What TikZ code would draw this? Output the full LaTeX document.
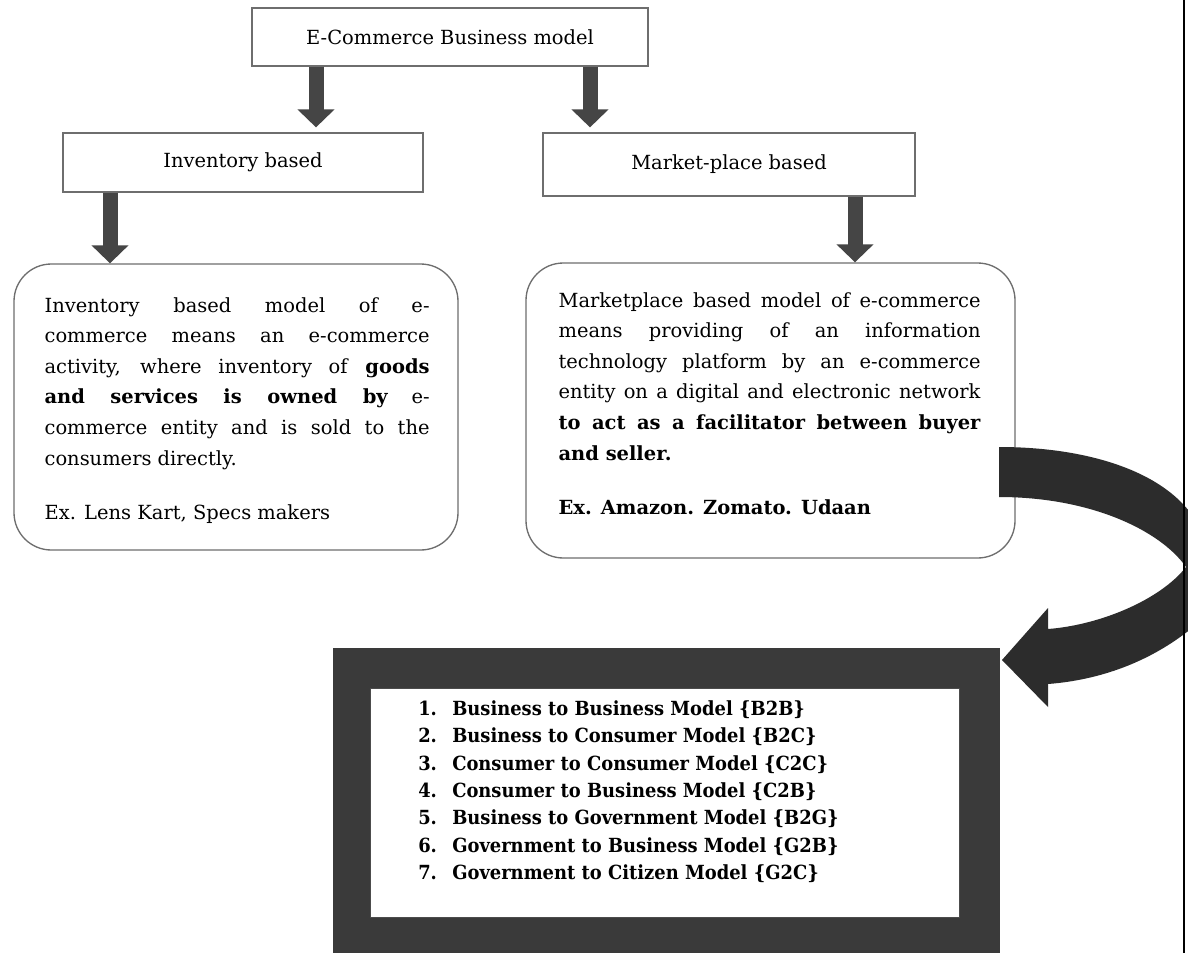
\documentclass[tikz,border=0pt]{standalone}
\usepackage{fontspec}
\setmainfont{DejaVu Serif}
\newfontfamily\listfont{DejaVu Serif}[FakeStretch=0.92]
\usetikzlibrary{arrows.meta,calc}
\setlength\parindent{0pt}
\tolerance=10000
\hbadness=10000
\hyphenpenalty=10000
\definecolor{edgegray}{HTML}{6E6E6E}
\definecolor{shaftgray}{HTML}{454545}
\definecolor{panelgray}{HTML}{3A3A3A}
\definecolor{ribbon}{HTML}{2C2C2C}
\begin{document}
\begin{tikzpicture}[x=0.75pt,y=-0.75pt,
  headbox/.style={draw=edgegray,line width=0.9pt,fill=white,inner sep=0pt,
    font=\fontsize{14.6}{18}\selectfont},
  roundbox/.style={draw=edgegray,line width=1pt,rounded corners=28pt,fill=white,inner sep=0pt},
  para/.style={inner sep=0pt,anchor=north west,align=justify,
    font=\fontsize{14.6}{22.9}\selectfont},
  blockarrow/.style={draw=shaftgray,line width=11.25pt,-{Triangle[width=27pt,length=13.5pt]}},
]
\useasboundingbox (0,0) rectangle (1188,953);
\fill[white] (0,0) rectangle (1188,953);

% header boxes
\node[headbox,minimum width=297pt,minimum height=43.5pt] (top) at (450,37) {E-Commerce Business model};
\node[headbox,minimum width=270pt,minimum height=44.25pt] (inv) at (243,162.5) {Inventory based};
\node[headbox,minimum width=279pt,minimum height=47.25pt] (mkt) at (729,164.5) {Market-place based};

% description boxes
\node[roundbox,minimum width=333pt,minimum height=214.5pt] (lbox) at (236,407) {};
\node[roundbox,minimum width=366.75pt,minimum height=221.25pt] (rbox) at (770.5,410.5) {};

\node[para,text width=288.75pt] (ltxt) at ($(lbox.north west)+(31,34)$)
  {Inventory based model of e-\linebreak
   commerce means an e-commerce\linebreak
   activity, where inventory of \textbf{goods}\linebreak
   \textbf{and services is owned by} e-\linebreak
   commerce entity and is sold to the\linebreak
   consumers directly.\\[17.6pt]
   Ex. Lens Kart, Specs makers};

\node[para,text width=316.5pt] (rtxt) at ($(rbox.north west)+(33,30)$)
  {Marketplace based model of e-commerce\linebreak
   means providing of an information\linebreak
   technology platform by an e-commerce\linebreak
   entity on a digital and electronic network\linebreak
   \textbf{to act as a facilitator between buyer}\linebreak
   \textbf{and seller.}\\[17.6pt]
   \textbf{Ex. Amazon. Zomato. Udaan}};

% straight block arrows
\coordinate (a1) at ($(top.south)+(-134,0)$);
\coordinate (a1e) at (a1 |- inv.north);
\coordinate (a2) at ($(top.south)+(140,0)$);
\coordinate (a2e) at (a2 |- mkt.north);
\coordinate (a3) at ($(inv.south)+(-133,0)$);
\coordinate (a3e) at (a3 |- lbox.north);
\coordinate (a4) at ($(mkt.south)+(126,0)$);
\coordinate (a4e) at (a4 |- rbox.north);
\draw[blockarrow] (a1) -- ($(a1e)+(0,-5)$);
\draw[blockarrow] (a2) -- ($(a2e)+(0,-5)$);
\draw[blockarrow] (a3) -- (a3e);
\draw[blockarrow] (a4) -- (a4e);

% list panel
\node[fill=panelgray,minimum width=500.25pt,minimum height=228.75pt,inner sep=0pt] (panel) at (666.5,800.5) {};
\node[fill=white,draw=black!70,line width=0.6pt,minimum width=441.75pt,minimum height=171.75pt,inner sep=0pt] (inner) at (664.5,802.5) {};
\node[anchor=north west,inner sep=0pt,align=left,
      font=\listfont\bfseries\fontsize{14.6}{20.6}\selectfont] (list) at (418,700)
  {\makebox[25.5pt][l]{1.}Business to Business Model \{B2B\}\\
   \makebox[25.5pt][l]{2.}Business to Consumer Model \{B2C\}\\
   \makebox[25.5pt][l]{3.}Consumer to Consumer Model \{C2C\}\\
   \makebox[25.5pt][l]{4.}Consumer to Business Model \{C2B\}\\
   \makebox[25.5pt][l]{5.}Business to Government Model \{B2G\}\\
   \makebox[25.5pt][l]{6.}Government to Business Model \{G2B\}\\
   \makebox[25.5pt][l]{7.}Government to Citizen Model \{G2C\}};

% curved ribbon arrow from the marketplace box to the list panel
\coordinate (rb1) at (999,447);
\coordinate (rb2) at (999,497);
\coordinate (tip) at (1002,660);
\fill[ribbon] (rb1) .. controls (1085,447) and (1160,470) .. (1192,515)
  -- (1192,628) .. controls (1150,662) and (1100,680) .. (1048,684)
  -- (1048,707) -- (tip) -- (1048,608) -- (1048,629)
  .. controls (1100,625) and (1160,600) .. (1186,567)
  .. controls (1160,530) and (1090,497) .. (rb2) -- cycle;

% page rule on the right
\coordinate (ruletop) at (1184,0);
\coordinate (rulebot) at (1184,953);
\draw[black,line width=1.1pt] (ruletop) -- (rulebot);
\end{tikzpicture}
\end{document}
